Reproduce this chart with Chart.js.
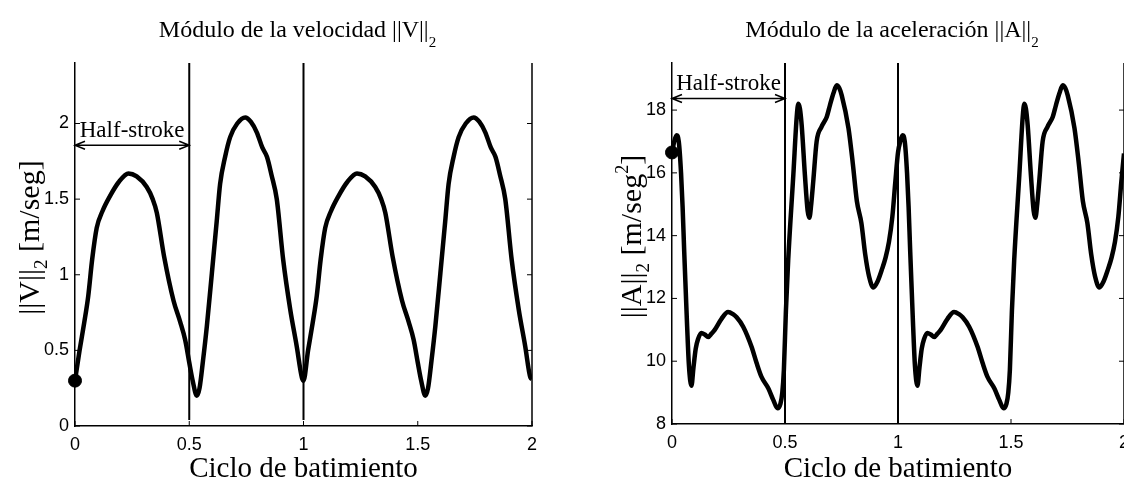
<!DOCTYPE html>
<html>
<head>
<meta charset="utf-8">
<script src="https://cdn.jsdelivr.net/npm/chart.js@4"></script>
<style>
  html, body { margin: 0; padding: 0; background: #fff; }
  #wrap { position: relative; width: 1124px; height: 481px; overflow: hidden; }
  .panel { position: absolute; top: 0; width: 562px; height: 481px; }
</style>
</head>
<body>
<div id="wrap">
  <div class="panel" style="left:0"><canvas id="chartV"></canvas></div>
  <div class="panel" style="left:562px"><canvas id="chartA"></canvas></div>
</div>
<script>
// Ciclo de batimiento (x) y modulo de la velocidad, dos ciclos
const cicloV = [
  0.000, 0.020, 0.040, 0.058, 0.075, 0.095, 0.120, 0.153, 0.190, 0.234, 0.270, 0.314, 0.340, 0.358,
  0.390, 0.431, 0.460, 0.482, 0.500, 0.515, 0.533, 0.545, 0.560, 0.577, 0.599, 0.620, 0.635, 0.657,
  0.679, 0.710, 0.745, 0.770, 0.796, 0.820, 0.840, 0.860, 0.883, 0.911, 0.942, 0.970, 0.993,
  1.000, 1.020, 1.040, 1.058, 1.075, 1.095, 1.120, 1.153, 1.190, 1.234, 1.270, 1.314, 1.340, 1.358,
  1.390, 1.431, 1.460, 1.482, 1.500, 1.515, 1.533, 1.545, 1.560, 1.577, 1.599, 1.620, 1.635, 1.657,
  1.679, 1.710, 1.745, 1.770, 1.796, 1.820, 1.840, 1.860, 1.883, 1.911, 1.942, 1.970, 1.993, 2.000
];
const velocidad = [
  0.30, 0.50, 0.68, 0.86, 1.10, 1.31, 1.42, 1.52, 1.61, 1.67, 1.65, 1.58, 1.50, 1.41,
  1.12, 0.83, 0.69, 0.57, 0.42, 0.30, 0.20, 0.25, 0.43, 0.66, 1.01, 1.35, 1.60, 1.78,
  1.91, 2.00, 2.04, 2.01, 1.94, 1.84, 1.78, 1.66, 1.50, 1.10, 0.77, 0.53, 0.32,
  0.30, 0.50, 0.68, 0.86, 1.10, 1.31, 1.42, 1.52, 1.61, 1.67, 1.65, 1.58, 1.50, 1.41,
  1.12, 0.83, 0.69, 0.57, 0.42, 0.30, 0.20, 0.25, 0.43, 0.66, 1.01, 1.35, 1.60, 1.78,
  1.91, 2.00, 2.04, 2.01, 1.94, 1.84, 1.78, 1.66, 1.50, 1.10, 0.77, 0.53, 0.32, 0.31
];

// Ciclo de batimiento (x) y modulo de la aceleracion, dos ciclos
const cicloA = [
  0.000, 0.010, 0.020, 0.030, 0.040, 0.047, 0.054, 0.061, 0.067, 0.075, 0.086, 0.095, 0.105, 0.115,
  0.130, 0.145, 0.160, 0.175, 0.189, 0.219, 0.248, 0.270, 0.286, 0.315, 0.352, 0.374, 0.396, 0.426,
  0.448, 0.467, 0.480, 0.488, 0.495, 0.504, 0.514, 0.537, 0.552, 0.559, 0.566, 0.574, 0.588, 0.600,
  0.608, 0.616, 0.625, 0.640, 0.662, 0.685, 0.699, 0.715, 0.729, 0.740, 0.751, 0.781, 0.800, 0.818,
  0.838, 0.855, 0.872, 0.891, 0.910, 0.930, 0.945, 0.960, 0.975, 0.988,
  1.000, 1.010, 1.020, 1.030, 1.040, 1.047, 1.054, 1.061, 1.067, 1.075, 1.086, 1.095, 1.105, 1.115,
  1.130, 1.145, 1.160, 1.175, 1.189, 1.219, 1.248, 1.270, 1.286, 1.315, 1.352, 1.374, 1.396, 1.426,
  1.448, 1.467, 1.480, 1.488, 1.495, 1.504, 1.514, 1.537, 1.552, 1.559, 1.566, 1.574, 1.588, 1.600,
  1.608, 1.616, 1.625, 1.640, 1.662, 1.685, 1.699, 1.715, 1.729, 1.740, 1.751, 1.781, 1.800, 1.818,
  1.838, 1.855, 1.872, 1.891, 1.910, 1.930, 1.945, 1.960, 1.975, 1.988, 2.000
];
const aceleracion = [
  16.65, 17.00, 17.20, 17.00, 16.00, 14.90, 13.50, 12.20, 11.10, 9.85, 9.22, 9.80, 10.40, 10.70,
  10.90, 10.85, 10.77, 10.88, 11.00, 11.35, 11.57, 11.50, 11.40, 11.10, 10.46, 9.95, 9.50, 9.14,
  8.77, 8.50, 8.65, 9.00, 9.72, 11.60, 13.20, 15.95, 17.80, 18.20, 18.05, 17.50, 15.94, 14.80,
  14.57, 15.00, 15.73, 17.00, 17.47, 17.79, 18.16, 18.55, 18.79, 18.70, 18.47, 17.42, 16.30, 15.10,
  14.40, 13.40, 12.70, 12.35, 12.55, 12.95, 13.30, 13.80, 14.60, 15.70,
  16.65, 17.00, 17.20, 17.00, 16.00, 14.90, 13.50, 12.20, 11.10, 9.85, 9.22, 9.80, 10.40, 10.70,
  10.90, 10.85, 10.77, 10.88, 11.00, 11.35, 11.57, 11.50, 11.40, 11.10, 10.46, 9.95, 9.50, 9.14,
  8.77, 8.50, 8.65, 9.00, 9.72, 11.60, 13.20, 15.95, 17.80, 18.20, 18.05, 17.50, 15.94, 14.80,
  14.57, 15.00, 15.73, 17.00, 17.47, 17.79, 18.16, 18.55, 18.79, 18.70, 18.47, 17.42, 16.30, 15.10,
  14.40, 13.40, 12.70, 12.35, 12.55, 12.95, 13.30, 13.80, 14.60, 15.70, 16.62
];

// punto inicial, lineas verticales y flecha "Half-stroke"
const inicioV = [0, 0.30];
const inicioA = [0, 16.65];
const lineasX = [0.5, 1.0];
const lineaV = [0.04, 2.4];
const lineaA = [8, 19.5];
const halfStroke = [0, 0.5];
const flechaV = 1.856;
const flechaA = 18.37;

const SERIF = '"Liberation Serif", "Times New Roman", serif';
const SANS = '"Liberation Sans", Arial, sans-serif';

function pares(xs, ys) {
  return xs.map((x, i) => ({ x, y: ys[i] }));
}

function datasets(xs, ys, inicio, linea) {
  const ds = [
    { data: [{ x: inicio[0], y: inicio[1] }], showLine: false, pointRadius: 6.5,
      pointBackgroundColor: '#000', pointBorderColor: '#000', clip: false },
    { data: pares(xs, ys), borderColor: '#000', borderWidth: 4.5, pointRadius: 0,
      cubicInterpolationMode: 'monotone' }
  ];
  lineasX.forEach(lx => {
    ds.push({ data: [{ x: lx, y: linea[0] }, { x: lx, y: linea[1] }],
      borderColor: '#000', borderWidth: 2, pointRadius: 0 });
  });
  return ds;
}

function escalas(yMin, yMax, paso, anchoY, altoX) {
  return {
    x: {
      type: 'linear', min: 0, max: 2,
      grid: { display: false, drawTicks: false },
      border: { display: true, color: '#000', width: 1.5 },
      ticks: { stepSize: 0.5, autoSkip: false, maxRotation: 0, padding: 8, color: '#000',
        font: { family: SANS, size: 18 }, callback: v => String(v) },
      afterFit: s => { s.height = altoX; s.paddingLeft = 0; s.paddingRight = 0; }
    },
    y: {
      type: 'linear', min: yMin, max: yMax,
      grid: { display: false, drawTicks: false },
      border: { display: true, color: '#000', width: 1.5 },
      ticks: { stepSize: paso, includeBounds: false, padding: 6, color: '#000',
        font: { family: SANS, size: 18 }, callback: v => String(v) },
      afterFit: s => { s.width = anchoY; s.paddingTop = 0; s.paddingBottom = 0; }
    }
  };
}

// texto con subindices / superindices
function textoRico(ctx, partes, x, y) {
  let total = 0;
  partes.forEach(p => { ctx.font = p.s + 'px ' + SERIF; total += ctx.measureText(p.t).width; });
  let cx = x - total / 2;
  ctx.textAlign = 'left';
  ctx.textBaseline = 'alphabetic';
  partes.forEach(p => {
    ctx.font = p.s + 'px ' + SERIF;
    ctx.fillText(p.t, cx, y + (p.dy || 0));
    cx += ctx.measureText(p.t).width;
  });
}

const decor = {
  id: 'decor',
  afterDraw(chart, args, o) {
    const { ctx, chartArea: a, scales: { x, y } } = chart;
    ctx.save();
    ctx.strokeStyle = '#000';
    ctx.fillStyle = '#000';

    // borde derecho
    ctx.lineWidth = 1.5;
    ctx.beginPath();
    ctx.moveTo(a.right, a.top);
    ctx.lineTo(a.right, a.bottom);
    ctx.stroke();

    // marcas hacia dentro
    ctx.lineWidth = 1;
    ctx.beginPath();
    y.ticks.forEach(t => {
      const py = y.getPixelForValue(t.value);
      ctx.moveTo(a.left, py); ctx.lineTo(a.left + 5, py);
      ctx.moveTo(a.right, py); ctx.lineTo(a.right - 5, py);
    });
    x.ticks.forEach(t => {
      const px = x.getPixelForValue(t.value);
      ctx.moveTo(px, a.bottom); ctx.lineTo(px, a.bottom - 5);
    });
    ctx.stroke();

    // flecha Half-stroke
    const x0 = x.getPixelForValue(halfStroke[0]);
    const x1 = x.getPixelForValue(halfStroke[1]);
    const fy = y.getPixelForValue(o.flechaY);
    ctx.lineWidth = 1.5;
    ctx.beginPath();
    ctx.moveTo(x0, fy); ctx.lineTo(x1, fy);
    ctx.moveTo(x0 + 10, fy - 4); ctx.lineTo(x0, fy); ctx.lineTo(x0 + 10, fy + 4);
    ctx.moveTo(x1 - 10, fy - 4); ctx.lineTo(x1, fy); ctx.lineTo(x1 - 10, fy + 4);
    ctx.stroke();
    textoRico(ctx, [{ t: 'Half-stroke', s: 23 }], (x0 + x1) / 2, fy - 8);

    const cx = (a.left + a.right) / 2;
    // titulo
    textoRico(ctx, o.titulo, cx - 6, 37);
    // etiqueta eje x
    textoRico(ctx, [{ t: 'Ciclo de batimiento', s: 29 }], cx, 477);
    // etiqueta eje y
    ctx.translate(o.yLabelX, (a.top + a.bottom) / 2 - 7);
    ctx.rotate(-Math.PI / 2);
    textoRico(ctx, o.yLabel, 0, 0);
    ctx.restore();
  }
};

function crear(id, ds, sc, pad, opts) {
  return new Chart(document.getElementById(id), {
    type: 'line',
    data: { datasets: ds },
    options: {
      responsive: true,
      maintainAspectRatio: false,
      animation: false,
      devicePixelRatio: 1,
      layout: { padding: pad, autoPadding: false },
      scales: sc,
      plugins: { legend: { display: false }, tooltip: { enabled: false }, decor: opts }
    },
    plugins: [decor]
  });
}

crear('chartV',
  datasets(cicloV, velocidad, inicioV, lineaV),
  escalas(0, 2.4, 0.5, 75, 55),
  { top: 63, right: 30, left: 0, bottom: 0 },
  {
    flechaY: flechaV,
    yLabelX: 39,
    titulo: [{ t: 'Módulo de la velocidad ||V||', s: 24 }, { t: '2', s: 15, dy: 10 }],
    yLabel: [{ t: '||V||', s: 30 }, { t: '2', s: 19, dy: 8 }, { t: ' [m/seg]', s: 30 }]
  });

crear('chartA',
  datasets(cicloA, aceleracion, inicioA, lineaA),
  escalas(8, 19.5, 2, 110, 57),
  { top: 63, right: 0, left: 0, bottom: 0 },
  {
    flechaY: flechaA,
    yLabelX: 79,
    titulo: [{ t: 'Módulo de la aceleración ||A||', s: 24 }, { t: '2', s: 15, dy: 10 }],
    yLabel: [{ t: '||A||', s: 30 }, { t: '2', s: 19, dy: 8 }, { t: ' [m/seg', s: 30 },
             { t: '2', s: 18, dy: -13 }, { t: ']', s: 30 }]
  });
</script>
</body>
</html>
